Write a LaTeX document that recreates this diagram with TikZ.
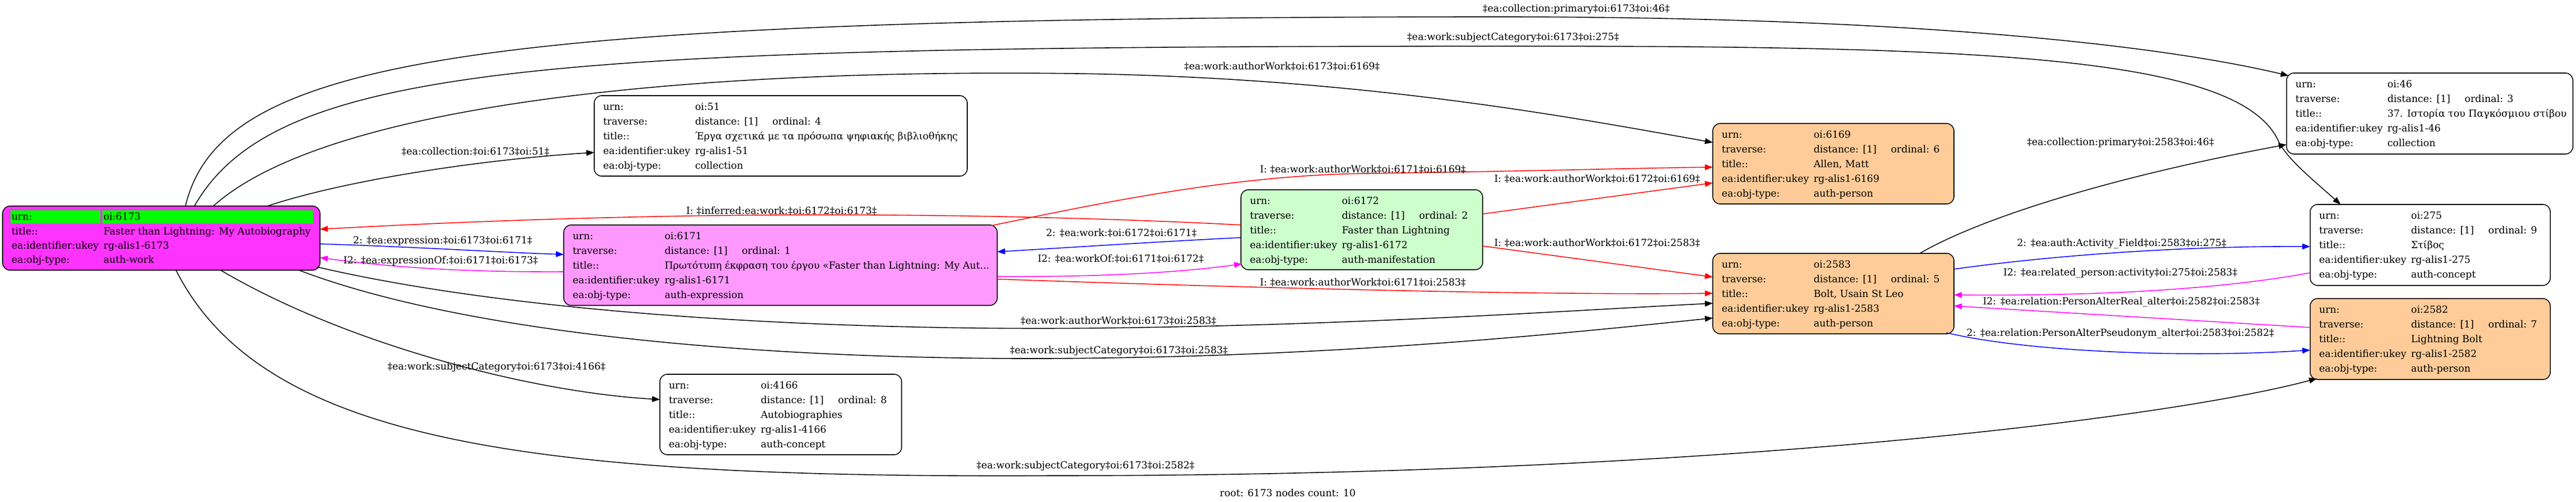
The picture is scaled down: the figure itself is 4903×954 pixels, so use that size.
\documentclass[tikz,border=0pt]{standalone}
\usepackage{fontspec}
\setmainfont{DejaVu Serif}
\usetikzlibrary{arrows.meta,calc}
\definecolor{cwork}{RGB}{255,51,255}
\definecolor{cexpr}{RGB}{255,153,255}
\definecolor{cmanif}{RGB}{204,255,204}
\definecolor{cpers}{RGB}{255,204,153}
\definecolor{cgreen}{RGB}{0,255,0}
\definecolor{cred}{RGB}{255,0,0}
\definecolor{cblue}{RGB}{0,0,255}
\definecolor{cmag}{RGB}{255,0,255}
\newcommand{\cellpair}[5]{%
  \node[txt] (#1#2l) at ($(#1.north west)+(17,#3)$) {#4};%
  \node[txt] (#1#2v) at ($(#1.north west)+(192,#3)$) {#5};}
\newcommand{\fiverows}[6]{%
  \cellpair{#1}{a}{27}{urn:}{#2}%
  \cellpair{#1}{b}{55}{traverse:}{distance: [1]}%
  \node[txt] (#1ord) at ($(#1.north west)+(339,55)$) {ordinal: #3};%
  \cellpair{#1}{c}{83}{title::}{#4}%
  \cellpair{#1}{d}{111}{ea:identifier:ukey}{#5}%
  \cellpair{#1}{e}{139}{ea:obj-type:}{#6}}
\begin{document}
\begin{tikzpicture}[x=1pt,y=-1pt,
  box/.style={draw=black, line width=1.6pt, rounded corners=14pt, anchor=north west, inner sep=0pt, outer sep=0pt},
  txt/.style={font=\fontsize{18.6pt}{22pt}\selectfont, inner sep=0pt, outer sep=0pt, anchor=base west},
  labw/.style={txt, anchor=base west},
  labe/.style={txt, anchor=base east},
  labc/.style={txt, anchor=base},
  arr/.style={line width=1.6pt, -{Triangle[length=15pt,width=11pt]}},
  blk/.style={arr, draw=black},
  redl/.style={arr, draw=cred},
  bluel/.style={arr, draw=cblue},
  magl/.style={arr, draw=cmag}]
\useasboundingbox (0,0) rectangle (4903,954);
% ---------- nodes ----------
\node[box, fill=cwork, minimum width=604pt, minimum height=122pt] (n6173) at (5,392) {};
\fill[cgreen] (20,400) rectangle (191,425);
\fill[cgreen] (195,400) rectangle (596,425);
\cellpair{n6173}{a}{26}{urn:}{oi:6173}
\cellpair{n6173}{c}{54}{title::}{Faster than Lightning: My Autobiography}
\cellpair{n6173}{d}{81}{ea:identifier:ukey}{rg-alis1-6173}
\cellpair{n6173}{e}{108}{ea:obj-type:}{auth-work}

\node[box, fill=white, minimum width=710pt, minimum height=153pt] (n51) at (1131,182) {};
\fiverows{n51}{oi:51}{4}{Έργα σχετικά με τα πρόσωπα ψηφιακής βιβλιοθήκης}{rg-alis1-51}{collection}

\node[box, fill=cexpr, minimum width=825pt, minimum height=153pt] (n6171) at (1073,428) {};
\fiverows{n6171}{oi:6171}{1}{Πρωτότυπη έκφραση του έργου «Faster than Lightning: My Aut...}{rg-alis1-6171}{auth-expression}

\node[box, fill=white, minimum width=460pt, minimum height=153pt] (n4166) at (1256,712) {};
\fiverows{n4166}{oi:4166}{8}{Autobiographies}{rg-alis1-4166}{auth-concept}

\node[box, fill=cmanif, minimum width=460pt, minimum height=152pt] (n6172) at (2362,361) {};
\fiverows{n6172}{oi:6172}{2}{Faster than Lightning}{rg-alis1-6172}{auth-manifestation}

\node[box, fill=cpers, minimum width=459pt, minimum height=153pt] (n6169) at (3260,235) {};
\fiverows{n6169}{oi:6169}{6}{Allen, Matt}{rg-alis1-6169}{auth-person}

\node[box, fill=cpers, minimum width=459pt, minimum height=153pt] (n2583) at (3260,482) {};
\fiverows{n2583}{oi:2583}{5}{Bolt, Usain St Leo}{rg-alis1-2583}{auth-person}

\node[box, fill=white, minimum width=545pt, minimum height=154pt] (n46) at (4352,139) {};
\fiverows{n46}{oi:46}{3}{37. Ιστορία του Παγκόσμιου στίβου}{rg-alis1-46}{collection}

\node[box, fill=white, minimum width=457pt, minimum height=154pt] (n275) at (4397,389) {};
\fiverows{n275}{oi:275}{9}{Στίβος}{rg-alis1-275}{auth-concept}

\node[box, fill=cpers, minimum width=457pt, minimum height=154pt] (n2582) at (4397,568) {};
\fiverows{n2582}{oi:2582}{7}{Lightning Bolt}{rg-alis1-2582}{auth-person}

% ---------- edges ----------
\draw[blk] ($(n6173.north west)+(348,0)$) .. controls (420,110) and (900,34) .. (2800,32) .. controls (3700,30) and (4150,95) .. ($(n46.north west)+(4,5)$);
\draw[blk] ($(n6173.north west)+(365,0)$) .. controls (520,130) and (1000,90) .. (2700,88) .. controls (3700,86) and (4250,95) .. (4335,265) .. controls (4350,300) and (4400,340) .. ($(n275.north west)+(58,0)$);
\draw[blk] ($(n6173.north west)+(401,0)$) .. controls (620,200) and (1300,130) .. (2050,140) .. controls (2600,148) and (3000,225) .. ($(n6169.north west)+(0,36)$);
\draw[blk] ($(n6173.north west)+(504,0)$) .. controls (650,345) and (900,305) .. ($(n51.north west)+(0,108)$);
\draw[blk] ($(n6173.south east)+(-5,-6)$) .. controls (1000,600) and (1600,630) .. (2100,624) .. controls (2600,618) and (3000,590) .. ($(n2583.north west)+(0,95)$);
\draw[blk] ($(n6173.south east)+(-40,0)$) .. controls (900,640) and (1500,690) .. (2100,681) .. controls (2600,674) and (3000,632) .. ($(n2583.north west)+(0,123)$);
\draw[blk] ($(n6173.south west)+(415,0)$) .. controls (650,650) and (1000,745) .. ($(n4166.north west)+(0,48)$);
\draw[blk] ($(n6173.south west)+(330,0)$) .. controls (500,840) and (1000,910) .. (2000,905) .. controls (3300,905) and (4150,790) .. ($(n2582.south west)+(13,-2)$);
\draw[redl] ($(n6172.north west)+(0,67)$) .. controls (2100,414) and (1700,404) .. (1300,411) .. controls (1000,416) and (760,428) .. ($(n6173.north east)+(0,44)$);
\draw[bluel] ($(n6173.north east)+(0,72)$) .. controls (800,470) and (950,480) .. ($(n6171.north west)+(0,56)$);
\draw[magl] ($(n6171.north west)+(0,89)$) .. controls (880,518) and (740,508) .. ($(n6173.north east)+(0,98)$);
\draw[bluel] ($(n6172.north west)+(0,91)$) .. controls (2200,460) and (2050,470) .. ($(n6171.north east)+(0,51)$);
\draw[magl] ($(n6171.north east)+(0,98)$) .. controls (2050,527) and (2220,522) .. ($(n6172.north west)+(2,141)$);
\draw[redl] ($(n6171.north east)+(-10,1)$) .. controls (2100,385) and (2350,333) .. (2600,330) .. controls (2900,326) and (3100,320) .. ($(n6169.north west)+(0,83)$);
\draw[redl] ($(n6172.north east)+(0,46)$) -- ($(n6169.north west)+(0,113)$);
\draw[redl] ($(n6171.north east)+(0,103)$) .. controls (2300,545) and (2900,562) .. ($(n2583.north west)+(0,76)$);
\draw[redl] ($(n6172.north east)+(0,107)$) -- ($(n2583.north west)+(0,45)$);
\draw[blk] ($(n2583.north west)+(394,0)$) .. controls (3760,420) and (4000,340) .. ($(n46.north west)+(0,136)$);
\draw[bluel] ($(n2583.north east)+(0,30)$) .. controls (3950,480) and (4200,468) .. ($(n275.north west)+(0,80)$);
\draw[magl] ($(n275.north west)+(0,130)$) .. controls (4200,555) and (3950,563) .. ($(n2583.north east)+(0,79)$);
\draw[magl] ($(n2582.north west)+(0,55)$) -- ($(n2583.north east)+(0,100)$);
\draw[bluel] ($(n2583.south east)+(-14,-2)$) .. controls (3850,668) and (4150,682) .. ($(n2582.north west)+(0,98)$);

% ---------- edge labels ----------
\node[labc] (L1) at (3000,22) {‡ea:collection:primary‡oi:6173‡oi:46‡};
\node[labc] (L2) at (2880,76) {‡ea:work:subjectCategory‡oi:6173‡oi:275‡};
\node[labc] (L3) at (2440,132) {‡ea:work:authorWork‡oi:6173‡oi:6169‡};
\node[labc] (L5) at (905,294) {‡ea:collection:‡oi:6173‡oi:51‡};
\node[labe] (L6) at (1013,463) {2: ‡ea:expression:‡oi:6173‡oi:6171‡};
\node[labe] (L7) at (1024,501) {I2: ‡ea:expressionOf:‡oi:6171‡oi:6173‡};
\node[labw] (L8) at (1306,407) {I: ‡inferred:ea:work:‡oi:6172‡oi:6173‡};
\node[labw] (L9) at (1991,449) {2: ‡ea:work:‡oi:6172‡oi:6171‡};
\node[labw] (L10) at (1975,498) {I2: ‡ea:workOf:‡oi:6171‡oi:6172‡};
\node[labw] (L11) at (2398,328) {I: ‡ea:work:authorWork‡oi:6171‡oi:6169‡};
\node[labw] (L12) at (2844,346) {I: ‡ea:work:authorWork‡oi:6172‡oi:6169‡};
\node[labw] (L13) at (2398,543) {I: ‡ea:work:authorWork‡oi:6171‡oi:2583‡};
\node[labw] (L14) at (2844,468) {I: ‡ea:work:authorWork‡oi:6172‡oi:2583‡};
\node[labe] (L15) at (2315,616) {‡ea:work:authorWork‡oi:6173‡oi:2583‡};
\node[labe] (L16) at (2337,672) {‡ea:work:subjectCategory‡oi:6173‡oi:2583‡};
\node[labc] (L17) at (945,703) {‡ea:work:subjectCategory‡oi:6173‡oi:4166‡};
\node[labc] (L18) at (2066,891) {‡ea:work:subjectCategory‡oi:6173‡oi:2582‡};
\node[labw] (L19) at (3858,276) {‡ea:collection:primary‡oi:2583‡oi:46‡};
\node[labw] (L20) at (3839,468) {2: ‡ea:auth:Activity\_Field‡oi:2583‡oi:275‡};
\node[labw] (L21) at (3813,524) {I2: ‡ea:related\_person:activity‡oi:275‡oi:2583‡};
\node[labw] (L22) at (3774,579) {I2: ‡ea:relation:PersonAlterReal\_alter‡oi:2582‡oi:2583‡};
\node[labw] (L23) at (3743,639) {2: ‡ea:relation:PersonAlterPseudonym\_alter‡oi:2583‡oi:2582‡};
\node[labc] (root) at (2451,944) {root: 6173 nodes count: 10};
\end{tikzpicture}
\end{document}
